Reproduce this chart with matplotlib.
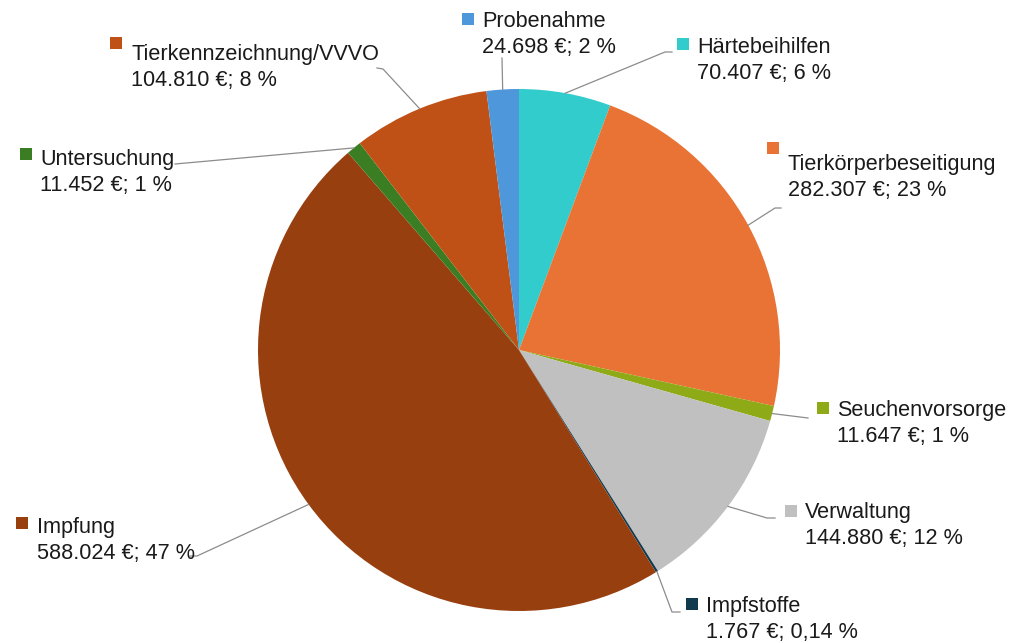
import numpy as np
import matplotlib.pyplot as plt
from matplotlib.patches import Rectangle

plt.rcParams['font.family'] = ['Liberation Sans', 'DejaVu Sans']

# data, clockwise from 12 o'clock
names = ['Härtebeihilfen', 'Tierkörperbeseitigung', 'Seuchenvorsorge', 'Verwaltung',
         'Impfstoffe', 'Impfung', 'Untersuchung', 'Tierkennzeichnung/VVVO', 'Probenahme']
values = [70407, 282307, 11647, 144880, 1767, 588024, 11452, 104810, 24698]
colors = ['#33CCCC', '#E97334', '#8EAA17', '#C0C0C0', '#103A4E',
          '#983F10', '#3A7D22', '#C05116', '#4E97DB']

W, H = 1010, 643
fig = plt.figure(figsize=(W / 100, H / 100), dpi=100)
ax = fig.add_axes([0, 0, 1, 1])


def Y(y):
    return H - y


cx, cy, r = 519, 350, 261
wedges, _ = ax.pie(values, colors=colors, startangle=90, counterclock=False,
                   center=(cx, Y(cy)), radius=r, frame=True,
                   wedgeprops=dict(linewidth=0))
ax.set_xlim(0, W)
ax.set_ylim(0, H)
ax.set_aspect('equal')
ax.axis('off')

total = sum(values)


def fmt(v):
    pct = v / total * 100
    s = f'{v:,}'.replace(',', '.')
    if pct < 0.5:
        p = f'{pct:.2f}'.replace('.', ',')
    else:
        p = f'{pct:.0f}'
    return f'{s} €; {p} %'


# label layout: square (x, top), text x, baseline of first line, leader elbow points
layout = {
    'Härtebeihilfen': ((677, 38), 697, 53, [(665, 52), (672, 52)]),
    'Tierkörperbeseitigung': ((767, 142), 788, 170, [(775, 208), (781, 208)]),
    'Seuchenvorsorge': ((817, 402), 837, 416, [(808, 418)]),
    'Verwaltung': ((785, 505), 805, 518, [(767, 518), (775, 518)]),
    'Impfstoffe': ((686, 598), 706, 612, [(672, 612), (680, 612)]),
    'Impfung': ((16, 517), 37, 533, [(197, 556), (190, 556)]),
    'Untersuchung': ((20, 148), 40, 165, [(175, 164)]),
    'Tierkennzeichnung/VVVO': ((110, 37), 131, 60, [(383, 69), (377, 68)]),
    'Probenahme': ((462, 13), 482, 27, [(502, 58)]),
}

for w, name, v, c in zip(wedges, names, values, colors):
    (sx, sy), tx, base, pts = layout[name]
    ax.add_patch(Rectangle((sx, Y(sy + 12)), 12, 12, color=c, lw=0))
    ax.text(tx, Y(base), name, fontsize=15.6, color='#1a1a1a', va='baseline', ha='left')
    ax.text(tx, Y(base + 26), fmt(v), fontsize=15.6, color='#1a1a1a', va='baseline', ha='left')
    ang = np.deg2rad((w.theta1 + w.theta2) / 2)
    px = cx + r * np.cos(ang)
    py = Y(cy) + r * np.sin(ang)
    xs = [px] + [p[0] for p in pts]
    ys = [py] + [Y(p[1]) for p in pts]
    ax.plot(xs, ys, color='#8c8c8c', lw=0.9)

plt.savefig('out.png', dpi=100)
